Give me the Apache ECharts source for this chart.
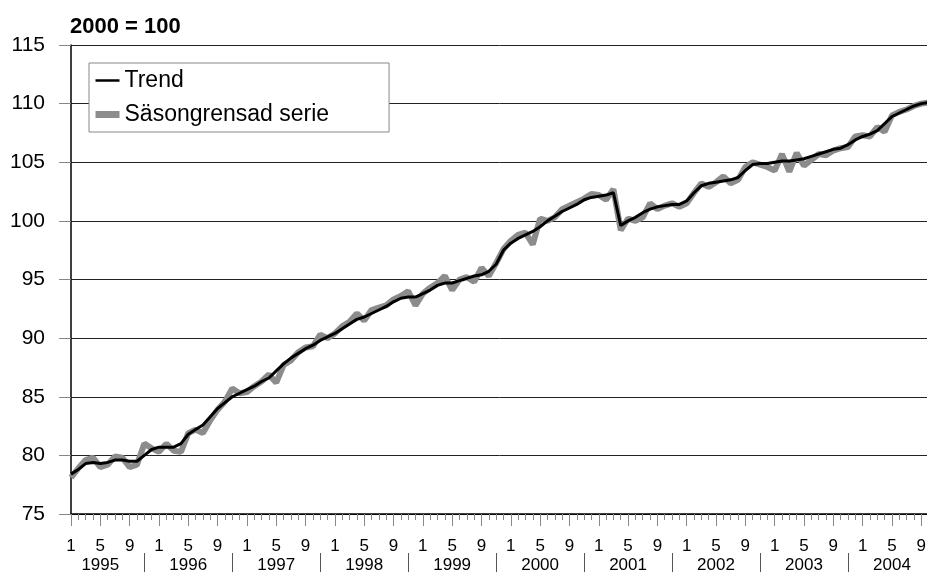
<!DOCTYPE html>
<html>
<head>
<meta charset="utf-8">
<script src="https://cdn.jsdelivr.net/npm/echarts@6/dist/echarts.min.js"></script>
<style>
html, body { margin: 0; padding: 0; background: #fff; }
#chart { width: 927px; height: 572px; }
</style>
</head>
<body>
<div id="chart"></div>
<script>
// monthly index, 2000 = 100, Jan 1995 - Oct 2004
const years = [1995, 1996, 1997, 1998, 1999, 2000, 2001, 2002, 2003, 2004];
const monthsInLastYear = 10;
const shownMonths = [1, 5, 9];
const yTicks = { min: 75, max: 115, step: 5 };

const trend = [
    78.4, 78.8, 79.3, 79.4, 79.3, 79.4, 79.6, 79.6, 79.5, 79.5, 80.0, 80.5,
    80.7, 80.7, 80.7, 81.0, 81.8, 82.2, 82.6, 83.3, 84.0, 84.5, 85.0, 85.3,
    85.6, 85.9, 86.3, 86.6, 87.2, 87.8, 88.3, 88.7, 89.1, 89.4, 89.8, 90.1,
    90.4, 90.8, 91.2, 91.6, 91.8, 92.1, 92.4, 92.7, 93.1, 93.4, 93.5, 93.5,
    93.8, 94.1, 94.5, 94.7, 94.7, 94.9, 95.1, 95.3, 95.4, 95.7, 96.3, 97.5,
    98.1, 98.5, 98.8, 99.1, 99.5, 100.0, 100.4, 100.8, 101.1, 101.4, 101.8, 102.0,
    102.1, 102.2, 102.4, 99.6, 100.0, 100.3, 100.7, 101.0, 101.2, 101.3, 101.4, 101.4,
    101.7, 102.4, 103.0, 103.2, 103.3, 103.4, 103.5, 103.7, 104.3, 104.8, 104.9, 104.9,
    105.0, 105.1, 105.1, 105.2, 105.3, 105.5, 105.7, 105.9, 106.1, 106.2, 106.5, 106.9,
    107.2, 107.4, 107.7, 108.3, 108.9, 109.2, 109.5, 109.8, 110.0, 110.1
];

const seasonAdjusted = [
    78.1, 78.9, 79.6, 79.8, 79.0, 79.2, 79.9, 79.8, 79.0, 79.2, 81.0, 80.6,
    80.3, 81.0, 80.4, 80.3, 81.9, 82.2, 81.9, 83.0, 83.9, 84.6, 85.7, 85.3,
    85.4, 85.9, 86.3, 86.9, 86.2, 87.7, 88.1, 88.8, 89.2, 89.3, 90.3, 90.0,
    90.4, 91.0, 91.4, 92.1, 91.5, 92.4, 92.6, 92.8, 93.3, 93.6, 94.0, 92.8,
    93.8, 94.3, 94.7, 95.3, 94.1, 95.0, 95.2, 94.8, 96.0, 95.3, 96.4, 97.6,
    98.3, 98.8, 99.0, 98.0, 100.2, 100.0, 100.3, 101.0, 101.3, 101.6, 101.9, 102.3,
    102.2, 101.8, 102.7, 99.2, 100.2, 100.0, 100.3, 101.5, 101.0, 101.3, 101.5, 101.2,
    101.5, 102.4, 103.2, 102.9, 103.3, 103.8, 103.2, 103.5, 104.6, 105.0, 104.8, 104.6,
    104.3, 105.7, 104.2, 105.8, 104.7, 105.2, 105.7, 105.6, 106.0, 106.2, 106.3, 107.2,
    107.3, 107.2, 108.0, 107.6, 109.0, 109.3, 109.5, 109.8, 110.0, 110.1
];

const categories = [];
years.forEach((y, k) => {
    const n = k === years.length - 1 ? monthsInLastYear : 12;
    for (let m = 1; m <= n; m++) {
        categories.push(y + '-' + m);
    }
});
const monthOf = c => +c.split('-')[1];
const yearOf = c => c.split('-')[0];

const font = 'Liberation Sans, Arial, sans-serif';
const noSymbol = { color: 'rgba(0,0,0,0)', borderWidth: 0 };
const chart = echarts.init(document.getElementById('chart'));

chart.setOption({
    animation: false,
    backgroundColor: '#fff',
    title: {
        text: '2000 = 100',
        left: 70,
        top: 16,
        padding: 0,
        textStyle: { fontSize: 22, fontWeight: 'bold', color: '#000', fontFamily: font }
    },
    legend: {
        orient: 'vertical',
        left: 89,
        top: 63,
        padding: [6, 60, 6, 3],
        itemGap: 11,
        itemWidth: 24,
        itemHeight: 14,
        backgroundColor: '#fff',
        borderColor: '#888',
        borderWidth: 1,
        textStyle: { fontSize: 23, color: '#000', fontFamily: font },
        data: [
            { name: 'Trend', itemStyle: noSymbol, lineStyle: { color: '#000', width: 2.5 } },
            { name: 'Säsongrensad serie', itemStyle: noSymbol, lineStyle: { color: '#8c8c8c', width: 7 } }
        ]
    },
    grid: { left: 71, right: -1.6, top: 45, bottom: 58, outerBoundsMode: 'none' },
    xAxis: [
        {
            type: 'category',
            data: categories,
            boundaryGap: false,
            axisLine: { lineStyle: { color: '#000', width: 1.5 } },
            axisTick: { interval: 0, length: 6, lineStyle: { color: '#888' } },
            axisLabel: {
                interval: (i, v) => shownMonths.includes(monthOf(v)),
                formatter: v => monthOf(v),
                margin: 24,
                fontSize: 17,
                color: '#000',
                fontFamily: font
            },
            splitLine: { show: false }
        },
        {
            type: 'category',
            data: categories,
            boundaryGap: false,
            position: 'bottom',
            axisLine: { show: false },
            axisTick: {
                interval: (i, v) => shownMonths.includes(monthOf(v)),
                length: 12,
                lineStyle: { color: '#888' }
            },
            axisLabel: { show: false }
        },
        {
            type: 'category',
            data: categories,
            boundaryGap: false,
            position: 'bottom',
            offset: 39,
            axisLine: { show: false },
            axisTick: {
                interval: (i, v) => monthOf(v) === 11,
                length: 22,
                lineStyle: { color: '#555' }
            },
            axisLabel: {
                interval: (i, v) => monthOf(v) === 5,
                formatter: v => yearOf(v),
                margin: 4,
                fontSize: 17,
                color: '#000',
                fontFamily: font
            }
        }
    ],
    yAxis: {
        type: 'value',
        min: yTicks.min,
        max: yTicks.max,
        interval: yTicks.step,
        axisLine: { show: true, lineStyle: { color: '#000', width: 1.5 } },
        axisTick: { show: true, length: 12, lineStyle: { color: '#888' } },
        axisLabel: { margin: 26, fontSize: 21, color: '#000', fontFamily: font },
        splitLine: { lineStyle: { color: '#222', width: 1 } }
    },
    series: [
        {
            name: 'Säsongrensad serie',
            type: 'line',
            data: seasonAdjusted,
            symbol: 'none',
            lineStyle: { color: '#8c8c8c', width: 6 },
            itemStyle: { color: '#8c8c8c' }
        },
        {
            name: 'Trend',
            type: 'line',
            data: trend,
            symbol: 'none',
            lineStyle: { color: '#000', width: 3 },
            itemStyle: { color: '#000' }
        }
    ]
});
</script>
</body>
</html>
